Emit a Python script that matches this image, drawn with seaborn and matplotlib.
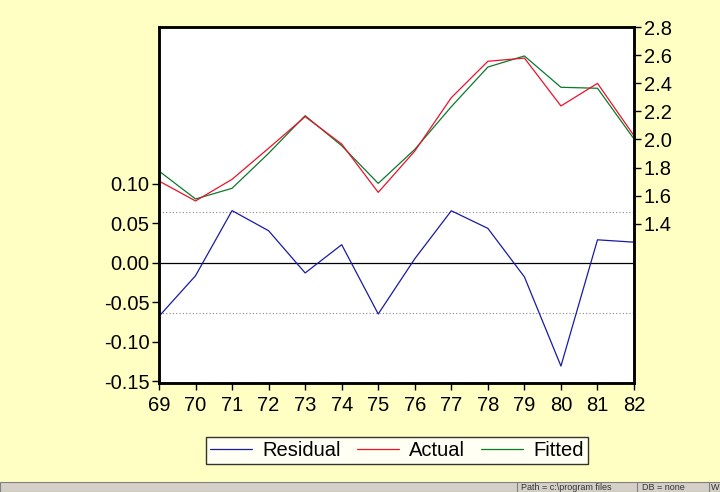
"""
Residual / Actual / Fitted chart, EViews style.
Saves out.png (720x492).
"""

import matplotlib
matplotlib.use("Agg")
import matplotlib.pyplot as plt
import matplotlib.patches as mpatches
import pandas as pd
import seaborn as sns

years = [69, 70, 71, 72, 73, 74, 75, 76, 77, 78, 79, 80, 81, 82]
actual = [1.704, 1.562, 1.716, 1.937, 2.162, 1.967, 1.623, 1.917,
          2.297, 2.556, 2.579, 2.238, 2.399, 2.026]
fitted = [1.775, 1.576, 1.652, 1.901, 2.169, 1.955, 1.687, 1.929,
          2.233, 2.515, 2.594, 2.371, 2.364, 2.003]
residual = [-0.068, -0.0165, 0.066, 0.0405, -0.013, 0.0228, -0.065, 0.005,
            0.0658, 0.0435, -0.018, -0.131, 0.029, 0.026]
resid_sd = 0.064

left_ticks = [-0.15, -0.10, -0.05, 0.00, 0.05, 0.10]
right_ticks = [1.4, 1.6, 1.8, 2.0, 2.2, 2.4, 2.6, 2.8]
status_texts = ["Path = c:\\program files", "DB = none", "W"]

BG = "#FFFFC4"
BLUE = "#1a1aa6"
RED = "#e8132b"
GREEN = "#0b7a2b"


def main():
    df = pd.DataFrame({"year": years, "Actual": actual,
                       "Fitted": fitted, "Residual": residual})

    sns.set_style("white")
    plt.rcParams["font.family"] = ["Liberation Sans", "DejaVu Sans"]
    plt.rcParams["text.color"] = "black"

    fig = plt.figure(figsize=(7.2, 4.92), dpi=100, facecolor=BG)
    ax = fig.add_axes([0.2208, 0.2215, 0.6598, 0.7236])
    ax.set_facecolor("white")

    # ---------- residual on the left axis ----------
    ax.axhline(0, color="black", lw=0.9, zorder=1)
    for v in (resid_sd, -resid_sd):
        ax.axhline(v, color="#888888", lw=0.8, ls=(0, (1, 2)), zorder=1)
    sns.lineplot(data=df, x="year", y="Residual", ax=ax, color=BLUE, lw=0.9)
    ax.set_ylim(-0.1525, 0.2987)
    ax.set_xlim(69, 82)
    ax.set_yticks(left_ticks)
    ax.set_yticklabels([f"{t:.2f}" for t in left_ticks])
    ax.set_xticks(years)
    ax.set_xticklabels([str(y) for y in years])
    ax.set_xlabel("")
    ax.set_ylabel("")

    # ---------- actual / fitted on the right axis ----------
    ax2 = ax.twinx()
    sns.lineplot(data=df, x="year", y="Fitted", ax=ax2, color=GREEN, lw=0.9)
    sns.lineplot(data=df, x="year", y="Actual", ax=ax2, color=RED, lw=0.9)
    ax2.set_ylim(0.266, 2.8)
    ax2.set_yticks(right_ticks)
    ax2.set_yticklabels([f"{t:.1f}" for t in right_ticks])
    ax2.set_ylabel("")
    ax2.set_xlim(69, 82)

    for a in (ax, ax2):
        for s in a.spines.values():
            s.set_color("black")
            s.set_linewidth(1.8)
        a.tick_params(axis="both", direction="out", length=5, width=1,
                      color="black", labelcolor="black", labelsize=14.5, pad=2)
    ax.tick_params(left=True, bottom=True)
    ax.tick_params(axis="x", pad=4)
    ax2.tick_params(right=True)

    # ---------- legend ----------
    handles = [plt.Line2D([], [], color=BLUE, lw=0.9),
               plt.Line2D([], [], color=RED, lw=0.9),
               plt.Line2D([], [], color=GREEN, lw=0.9)]
    leg = fig.legend(handles, ["Residual", "Actual", "Fitted"], ncol=3,
                     loc="center", bbox_to_anchor=(0.551, 0.084),
                     fontsize=14.5, frameon=True, fancybox=False,
                     edgecolor="black", handlelength=2.1, columnspacing=0.8,
                     borderpad=0.2, handletextpad=0.5, borderaxespad=0)
    leg.get_frame().set_linewidth(1.0)

    # ---------- window status bar at the very bottom ----------
    bar_h = 0.02
    fig.patches.append(mpatches.Rectangle((0, 0), 1, bar_h, transform=fig.transFigure,
                                          facecolor="#d4d0c8", edgecolor="#808080",
                                          lw=0.8, zorder=5))
    seps = [0.718, 0.885, 0.985]
    text_x = [0.724, 0.892, 0.988]
    for xs in seps:
        fig.patches.append(mpatches.Rectangle((xs, 0), 0.0, bar_h,
                                              transform=fig.transFigure,
                                              edgecolor="#808080", lw=0.8, zorder=6))
    for tx, label in zip(text_x, status_texts):
        fig.text(tx, bar_h / 2, label, fontsize=6.5, color="#333333",
                 va="center", ha="left", zorder=7)

    fig.savefig("out.png", dpi=100, facecolor=BG)
    plt.close(fig)


if __name__ == "__main__":
    main()
